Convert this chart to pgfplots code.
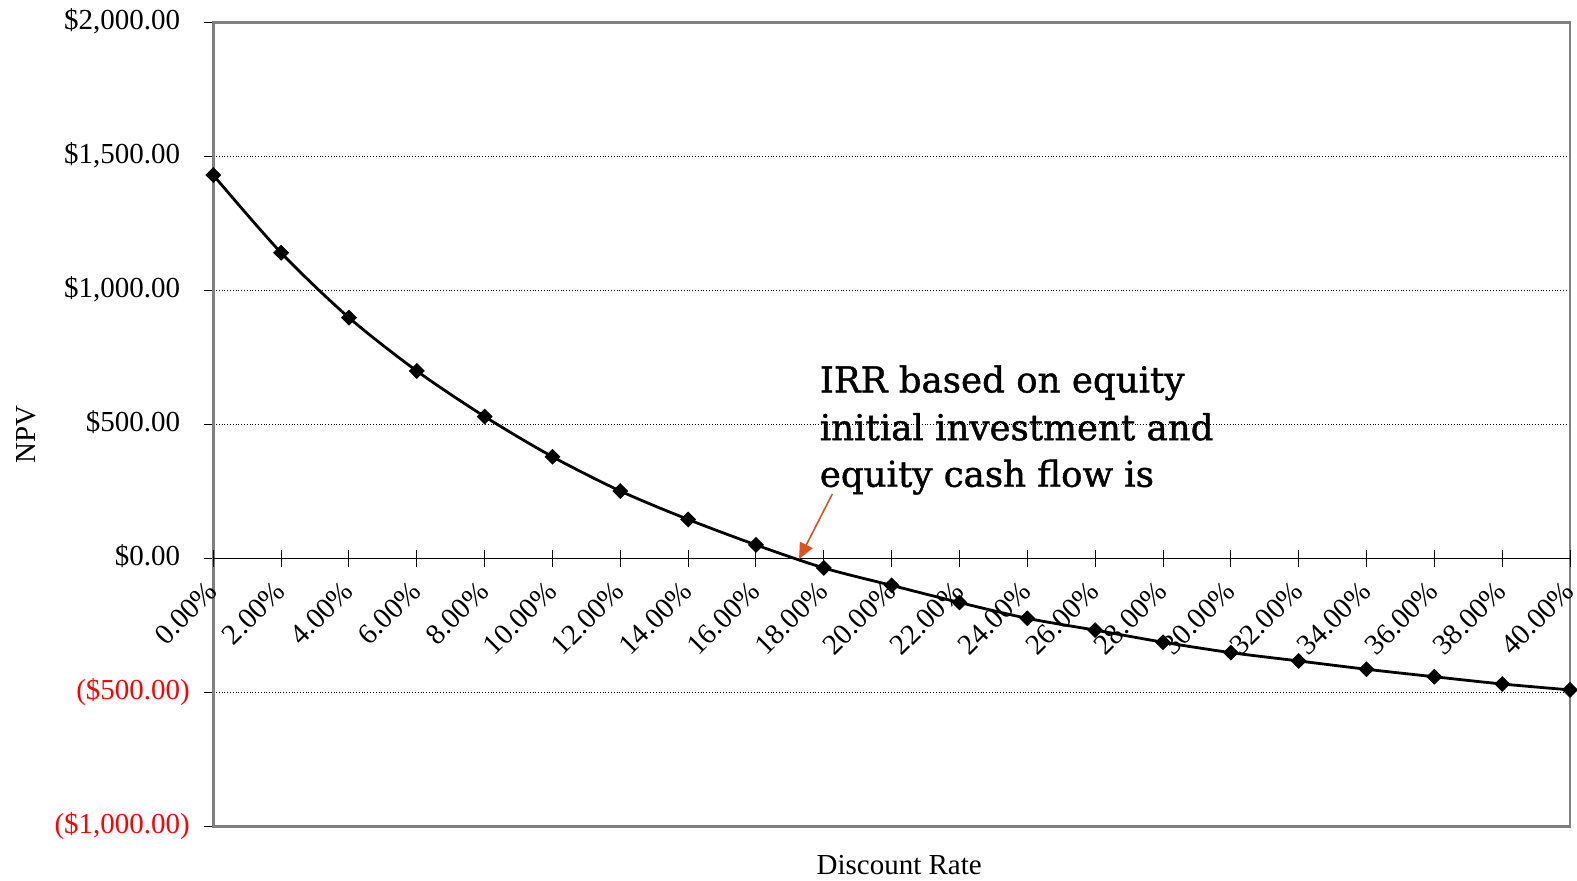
\documentclass[border=0pt]{standalone}
\usepackage{pgfplots}
\pgfplotsset{compat=1.18}
\usepackage{fontspec}
\setmainfont{Liberation Serif}
\newfontfamily\slab[FakeBold=1.2]{DejaVu Serif}
\usetikzlibrary{arrows.meta}
\definecolor{framegray}{RGB}{128,128,128}
\definecolor{arrowred}{RGB}{222,82,30}

% NPV of the equity cash flows at each discount rate (%)
\pgfplotstableread{
rate npv
0   1430
2   1140
4   898
6   699
8   529
10  379
12  251
14  145
16  50
18  -36
20  -101
22  -165
24  -224
26  -268
28  -313
30  -352
32  -383
34  -414
36  -442
38  -469
40  -491
}\npvdata

\newcommand{\lbl}{\fontsize{14.5}{17}\selectfont}

\begin{document}
\begin{tikzpicture}
\path[use as bounding box] (-106.65pt,-26.85pt) rectangle (681.85pt,413.15pt);

% frame, horizontal grid and dollar scale
\begin{axis}[
  scale only axis, width=678.35pt, height=402pt,
  xmin=0, xmax=40, ymin=-1000, ymax=2000,
  axis line style={framegray, line width=1.4pt},
  xtick=\empty,
  ytick={-1000,-500,0,500,1000,1500,2000},
  yticklabels={{\textcolor{red}{(\$1,000.00)}},{\textcolor{red}{(\$500.00)}},{\$0.00\phantom{)}},{\$500.00\phantom{)}},{\$1,000.00\phantom{)}},{\$1,500.00\phantom{)}},{\$2,000.00\phantom{)}}},
  ytick pos=left, tick align=outside, major tick length=4.7pt,
  ytick style={black, line width=0.5pt},
  yticklabel style={font=\lbl, anchor=east, xshift=-3.5pt},
  ymajorgrids, grid style={black, densely dotted, line width=0.5pt},
  xlabel={Discount Rate}, ylabel={NPV},
  label style={font=\lbl},
  xlabel style={at={(axis description cs:0.5056,-0.0479)}, anchor=center},
  ylabel style={at={(axis description cs:-0.1379,0.487)}, anchor=center},
]
\end{axis}

% zero line with rate ticks, NPV curve and IRR note
\begin{axis}[
  scale only axis, width=678.35pt, height=402pt,
  xmin=0, xmax=40, ymin=-1000, ymax=2000,
  axis x line=middle, axis y line=none,
  x axis line style={-, black, line width=0.6pt},
  xtick={0,2,...,40},
  xticklabels={0.00\%,2.00\%,4.00\%,6.00\%,8.00\%,10.00\%,12.00\%,14.00\%,16.00\%,18.00\%,20.00\%,22.00\%,24.00\%,26.00\%,28.00\%,30.00\%,32.00\%,34.00\%,36.00\%,38.00\%,40.00\%},
  xtick align=center, major tick length=8.3pt,
  xtick style={black, line width=0.5pt},
  xticklabel style={font=\lbl, xshift=2pt, yshift=-7.5pt, rotate=45, anchor=east},
  ytick=\empty,
  clip=false,
]
\addplot[black, line width=1.4pt, smooth, tension=0.5,
  mark=square*, mark size=2.6pt, mark options={rotate=45, fill=black, line width=0.4pt}]
  table[x=rate, y=npv] {\npvdata};

\node[anchor=base west, inner sep=0, font=\slab\fontsize{17.8}{21}\selectfont] at (axis cs:17.87,619) {IRR based on equity};
\node[anchor=base west, inner sep=0, font=\slab\fontsize{17.8}{21}\selectfont] at (axis cs:17.87,441) {initial investment and};
\node[anchor=base west, inner sep=0, font=\slab\fontsize{17.8}{21}\selectfont] at (axis cs:17.87,267) {equity cash flow is};
\draw[arrowred, line width=0.8pt, -{Triangle[length=8pt,width=7pt]}] (axis cs:18.25,240) -- (axis cs:17.27,-3);
\end{axis}
\end{tikzpicture}
\end{document}
